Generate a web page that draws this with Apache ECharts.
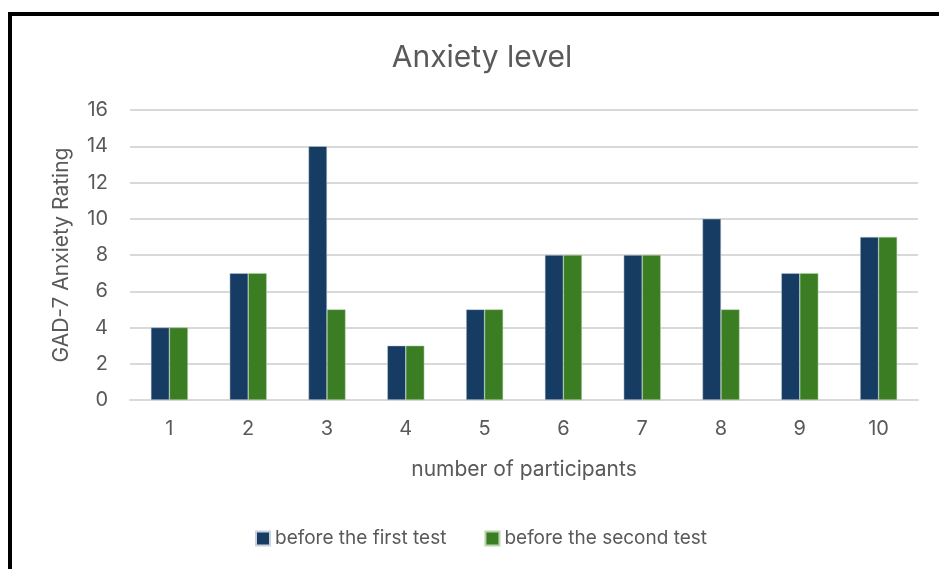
<!DOCTYPE html>
<html>
<head>
<meta charset="utf-8">
<script src="https://cdn.jsdelivr.net/npm/echarts@6/dist/echarts.min.js"></script>
<style>
  html, body { margin: 0; padding: 0; background: #ffffff; }
  #chart { width: 939px; height: 569px; }
</style>
</head>
<body>
<div id="chart"></div>
<script>
// Participants and their GAD-7 scores before each test
const participants = ['1', '2', '3', '4', '5', '6', '7', '8', '9', '10'];
const beforeFirstTest = [4, 7, 14, 3, 5, 8, 8, 10, 7, 9];
const beforeSecondTest = [4, 7, 5, 3, 5, 8, 8, 5, 7, 9];
const seriesNames = ['before the first test', 'before the second test'];

const FONT = 'Inter, "Open Sans", sans-serif';
const GREY = '#595959';

const chart = echarts.init(document.getElementById('chart'), null, { renderer: 'canvas' });

chart.setOption({
  backgroundColor: '#ffffff',
  animation: false,
  title: {
    text: 'Anxiety level',
    left: 477,
    top: 38,
    textAlign: 'center',
    textStyle: { fontFamily: FONT, fontSize: 30, fontWeight: 'normal', color: GREY }
  },
  legend: {
    data: seriesNames,
    left: 250,
    top: 524,
    itemWidth: 14,
    itemHeight: 14,
    itemGap: 38,
    icon: 'rect',
    textStyle: { fontFamily: FONT, fontSize: 19, color: GREY }
  },
  grid: { left: 130, right: 21, top: 110, bottom: 169, containLabel: false },
  xAxis: {
    type: 'category',
    data: participants,
    name: 'number of participants',
    nameLocation: 'middle',
    nameGap: 59,
    nameTextStyle: { fontFamily: FONT, fontSize: 21, color: GREY },
    axisLine: { show: true, lineStyle: { color: '#d9d9d9', width: 2 } },
    axisTick: { show: false },
    axisLabel: { fontFamily: FONT, fontSize: 20, color: GREY, margin: 19 }
  },
  yAxis: {
    type: 'value',
    min: 0,
    max: 16,
    interval: 2,
    name: 'GAD-7 Anxiety Rating',
    nameLocation: 'middle',
    nameGap: 58,
    nameRotate: 90,
    nameTextStyle: { fontFamily: FONT, fontSize: 21, color: GREY },
    axisLine: { show: false },
    axisTick: { show: false },
    axisLabel: { fontFamily: FONT, fontSize: 20, color: GREY, margin: 22 },
    splitLine: { lineStyle: { color: '#d9d9d9', width: 2 } }
  },
  series: [
    {
      name: seriesNames[0],
      type: 'bar',
      data: beforeFirstTest,
      barGap: '0%',
      barCategoryGap: '53%',
      itemStyle: { color: '#173c63', borderColor: '#c8d2dc', borderWidth: 0.5 }
    },
    {
      name: seriesNames[1],
      type: 'bar',
      data: beforeSecondTest,
      barGap: '0%',
      barCategoryGap: '53%',
      itemStyle: { color: '#3b7d23', borderColor: '#b9d4ae', borderWidth: 0.5 }
    }
  ],
  graphic: [
    // frame edges around the chart
    { type: 'rect', shape: { x: 8, y: 12, width: 931, height: 4 }, style: { fill: '#000000' } },
    { type: 'rect', shape: { x: 8, y: 12, width: 4, height: 557 }, style: { fill: '#000000' } }
  ]
});
</script>
</body>
</html>
